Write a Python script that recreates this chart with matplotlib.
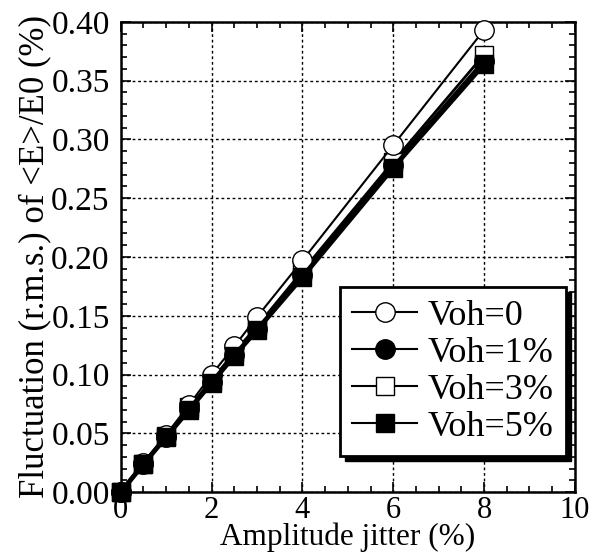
import matplotlib
matplotlib.use("Agg")
import matplotlib.pyplot as plt
from matplotlib.patches import Rectangle
from matplotlib.ticker import MultipleLocator, FormatStrFormatter

plt.rcParams['font.family'] = ['Liberation Serif', 'DejaVu Serif']

# valeurs
jitter = [0, 0.5, 1, 1.5, 2, 2.5, 3, 4, 6, 8]
voh_0 = [0.0, 0.025, 0.049, 0.074, 0.100, 0.124, 0.149, 0.197, 0.295, 0.393]
voh_1 = [0.0, 0.024, 0.047, 0.071, 0.094, 0.117, 0.139, 0.185, 0.278, 0.367]
voh_3 = [0.0, 0.024, 0.048, 0.072, 0.095, 0.119, 0.141, 0.188, 0.281, 0.372]
voh_5 = [0.0, 0.024, 0.047, 0.070, 0.093, 0.116, 0.138, 0.183, 0.276, 0.364]
labels = ['Voh=0', 'Voh=1%', 'Voh=3%', 'Voh=5%']

fig = plt.figure(figsize=(6.07, 5.58), dpi=100)
ax = fig.add_axes([0.199, 0.118, 0.748, 0.843])

ax.plot(jitter, voh_1, '-o', color='k', lw=2.5, ms=14, mfc='k', mec='k', label=labels[1], zorder=3, clip_on=False)
ax.plot(jitter, voh_3, '-s', color='k', lw=2, ms=13, mfc='white', mec='k', label=labels[2], zorder=4, clip_on=False)
ax.plot(jitter, voh_0, '-o', color='k', lw=1.5, ms=14, mfc='white', mec='k', mew=1, label=labels[0], zorder=5, clip_on=False)
ax.plot(jitter, voh_5, '-s', color='k', lw=3.5, ms=13, mfc='k', mec='k', label=labels[3], zorder=6, clip_on=False)

ax.set_xlim(0, 10)
ax.set_ylim(0, 0.40)
ax.xaxis.set_major_locator(MultipleLocator(2))
ax.xaxis.set_minor_locator(MultipleLocator(0.5))
ax.yaxis.set_major_locator(MultipleLocator(0.05))
ax.yaxis.set_minor_locator(MultipleLocator(0.01))
ax.yaxis.set_major_formatter(FormatStrFormatter('%.2f'))
ax.tick_params(which='both', direction='in', top=True, right=True, width=1.2)
ax.tick_params(which='major', length=7)
ax.tick_params(which='minor', length=4)
ax.tick_params(axis='x', labelsize=22, pad=3)
ax.tick_params(axis='y', labelsize=24, pad=8)
for s in ax.spines.values():
    s.set_linewidth(1.8)
ax.grid(True, which='major', color='k', linestyle=(0, (2, 2)), linewidth=1)

ax.set_xlabel('Amplitude jitter (%)', fontsize=22.5, labelpad=-2)
ax.set_ylabel('Fluctuation (r.m.s.) of <E>/E0 (%)', fontsize=25, labelpad=0)

h, l = ax.get_legend_handles_labels()
order = [2, 0, 1, 3]
leg = ax.legend([h[i] for i in order], [l[i] for i in order], loc='upper left',
                bbox_to_anchor=(0.482, 0.436), borderaxespad=0,
                fontsize=26, frameon=True, fancybox=False, framealpha=1,
                facecolor='white', edgecolor='k', handlelength=1.8,
                handletextpad=0.28, labelspacing=0.1, borderpad=0.35)
leg.get_frame().set_linewidth(2)
leg.set_zorder(10)
for lh in leg.get_lines():
    lh.set_linewidth(1.5)

# ombre noire décalée sous la légende
fig.canvas.draw()
bb = leg.get_window_extent()
shadow = Rectangle((bb.x0 + 5, bb.y0 - 5), bb.width, bb.height, transform=None,
                   facecolor='k', edgecolor='k', zorder=9)
ax.add_artist(shadow)

fig.savefig('out.png', dpi=100)
